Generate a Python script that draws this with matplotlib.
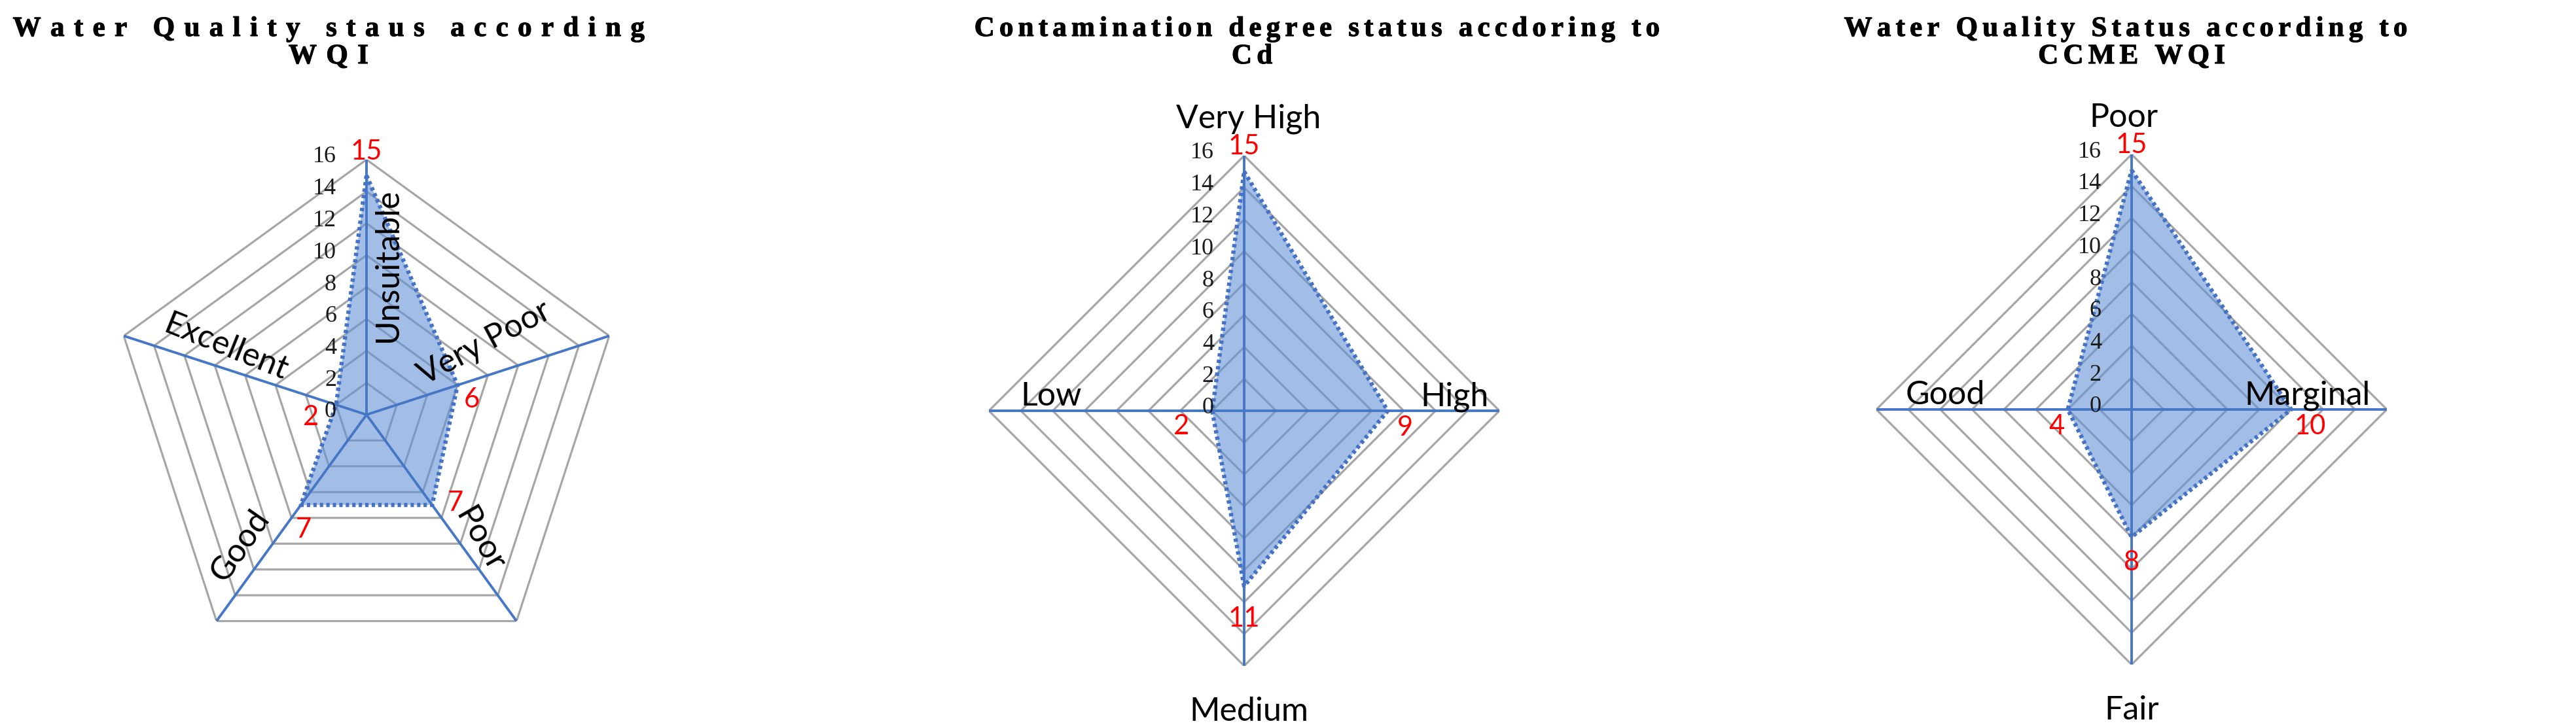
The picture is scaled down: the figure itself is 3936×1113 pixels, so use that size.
import numpy as np
import matplotlib.pyplot as plt
import matplotlib.patheffects as pe

W_PX, H_PX, DPI = 3936, 1113, 100

# -----------------------------
# Data
# -----------------------------
wqi_categories = ["Unsuitable", "Very Poor", "Poor", "Good", "Excellent"]
wqi_counts = [15, 6, 7, 7, 2]

cd_categories = ["Very High", "High", "Medium", "Low"]
cd_counts = [15, 9, 11, 2]

ccme_categories = ["Poor", "Marginal", "Fair", "Good"]
ccme_counts = [15, 10, 8, 4]

r_ticks = [0, 2, 4, 6, 8, 10, 12, 14, 16]

titles = [
    ("Water Quality staus according", "WQI"),
    ("Contamination degree status accdoring to", "Cd"),
    ("Water Quality Status according to", "CCME WQI"),
]

# -----------------------------
# Style / layout (pixels of the final image)
# -----------------------------
GRID = "#A6A6A6"
SPOKE = "#4677C6"
EDGE = "#4472C4"
FILL = "#5F90D6"
SANS = ["Lato", "DejaVu Sans"]
SERIF = ["Liberation Serif", "DejaVu Serif"]
RADIUS = 390
TITLE_SIZE = 31

centers = [(560, 634), (1901, 628), (3257, 626)]
title_x = [(502, 502), (2011, 1913), (3247, 3257)]
title_w = [961, 990, 851]          # target width of first title line
title_base = (55, 97)              # baselines of the two title lines
SEPS = ["", "\u200a", "\u200a\u200a", "\u2006", "\u2005", "\u2009",
        "\u2004", "\u2009\u200a", "\u2009\u2006", "\u2009\u2005",
        "\u2009\u2009", "\u2002"]

# category label: (r along spoke, dx px, dy px, rotation, ha, va)
cat_style = [
    [(9.4, 33, 0, 90, "center", "center"),
     (8.4, -14, 46, 28, "center", "center"),
     (10.5, 22, 16, -60, "center", "center"),
     (11.3, -31, 23, 55, "center", "center"),
     (9.7, 10, 30, -22, "center", "center")],
    [(16, 7, 56, 0, "center", "center"),
     (13.2, 0, 8, 0, "center", "baseline"),
     (16, 7, -70, 0, "center", "center"),
     (12.1, 0, 8, 0, "center", "baseline")],
    [(16, -12, 56, 0, "center", "center"),
     (11.0, 0, 8, 0, "center", "baseline"),
     (16, 0, -70, 0, "center", "center"),
     (11.7, 0, 8, 0, "center", "baseline")],
]
# value label offsets from the data point (dx px, dy px)
val_style = [
    [(0, 36), (22, -22), (36, 3), (4, -38), (-39, -19)],
    [(0, 38), (27, -26), (0, -50), (-47, -24)],
    [(0, 38), (29, -26), (0, -39), (-17, -26)],
]

TITLE_FX = [pe.withStroke(linewidth=0.8, foreground="black")]


def px(v):
    return v * 72.0 / DPI


def draw_radar(fig, center, cats, vals, cstyle, vstyle):
    cx, cy = center
    ax = fig.add_axes([(cx - RADIUS) / W_PX, 1 - (cy + RADIUS) / H_PX,
                       2 * RADIUS / W_PX, 2 * RADIUS / H_PX],
                      projection="polar")
    ax.set_theta_offset(np.pi / 2)
    ax.set_theta_direction(-1)
    ax.set_ylim(0, r_ticks[-1])
    ax.set_axis_off()

    n = len(cats)
    angles = np.linspace(0, 2 * np.pi, n, endpoint=False)
    closed = np.append(angles, angles[0])

    for t in r_ticks[1:]:
        ax.plot(closed, [t] * (n + 1), color=GRID, lw=2.3, zorder=1)

    v = np.append(vals, vals[0])
    ax.fill(closed, v, color=FILL, alpha=0.58, lw=0, zorder=2)
    for a in angles:
        ax.plot([a, a], [0, r_ticks[-1]], color=SPOKE, lw=2.8, zorder=3)
    ax.plot(closed, v, color=EDGE, lw=4.6, ls=(0, (0.8, 0.75)), zorder=4)

    for t in r_ticks:
        ax.annotate(str(t), xy=(0, t), xytext=(px(-46), px(4)),
                    textcoords="offset points", ha="right", va="center",
                    fontsize=26, family=SERIF, color="#1a1a1a",
                    annotation_clip=False, zorder=5)

    for a, c, (r, dx, dy, rot, ha, va) in zip(angles, cats, cstyle):
        ax.annotate(c, xy=(a, r), xytext=(px(dx), px(dy)),
                    textcoords="offset points", ha=ha, va=va, rotation=rot,
                    rotation_mode="anchor", fontsize=36, family=SANS,
                    color="black", annotation_clip=False, zorder=6)

    for a, val, (dx, dy) in zip(angles, vals, vstyle):
        ax.annotate(str(val), xy=(a, val), xytext=(px(dx), px(dy)),
                    textcoords="offset points", ha="center", va="center",
                    fontsize=30, family=SANS, color="#FF0000",
                    annotation_clip=False, zorder=7)
    return ax


def add_title(fig, lines, xs, target):
    """Two-line bold serif title with widened letter spacing."""
    renderer = fig.canvas.get_renderer()
    t1 = fig.text(xs[0] / W_PX, 1 - title_base[0] / H_PX, lines[0],
                  ha="center", va="baseline", fontsize=TITLE_SIZE,
                  fontweight="bold", family=SERIF, path_effects=TITLE_FX)
    best = None
    for sep in SEPS:
        t1.set_text(sep.join(lines[0]))
        w = t1.get_window_extent(renderer).width
        if best is None or abs(w - target) < best[0]:
            best = (abs(w - target), sep)
    sep = best[1]
    t1.set_text(sep.join(lines[0]))
    fig.text(xs[1] / W_PX, 1 - title_base[1] / H_PX, sep.join(lines[1]),
             ha="center", va="baseline", fontsize=TITLE_SIZE,
             fontweight="bold", family=SERIF, path_effects=TITLE_FX)


fig = plt.figure(figsize=(W_PX / DPI, H_PX / DPI), dpi=DPI)
fig.patch.set_facecolor("white")

datasets = [
    (wqi_categories, wqi_counts),
    (cd_categories, cd_counts),
    (ccme_categories, ccme_counts),
]
for i, (cats, vals) in enumerate(datasets):
    draw_radar(fig, centers[i], cats, vals, cat_style[i], val_style[i])
    add_title(fig, titles[i], title_x[i], title_w[i])

fig.savefig("out.png", dpi=DPI, facecolor="white")
